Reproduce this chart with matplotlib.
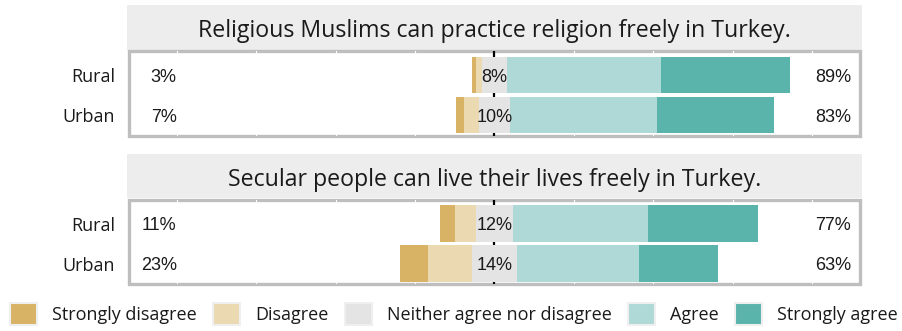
import matplotlib
matplotlib.use("Agg")
import matplotlib.pyplot as plt
import matplotlib.patches as mpatches
import numpy as np

W, H = 903, 331

# likert levels and colours
levels = ["Strongly disagree", "Disagree", "Neither agree nor disagree", "Agree", "Strongly agree"]
colors = ["#D8B365", "#EAD9B1", "#E4E4E4", "#AED9D6", "#5AB4AC"]

groups = ["Urban", "Rural"]  # bottom -> top
questions = ["Religious Muslims can practice religion freely in Turkey.",
             "Secular people can live their lives freely in Turkey."]

# percent per level (rows: Urban, Rural)
religious = np.array([[2.5, 4.6, 10.0, 46.0, 36.9],
                      [1.2, 1.8, 8.0, 48.5, 40.5]])
secular = np.array([[8.9, 13.8, 14.1, 38.5, 24.7],
                    [4.8, 6.4, 11.9, 42.3, 34.6]])
data = [religious, secular]

TXT = "#1a1a1a"
SANS = ["Open Sans", "DejaVu Sans"]
PCT = ["Liberation Sans", "DejaVu Sans"]


def box(x0, y0, x1, y1):
    # pixel box (top-left origin) -> figure fraction
    return [x0 / W, 1 - y1 / H, (x1 - x0) / W, (y1 - y0) / H]


fig = plt.figure(figsize=(W / 100, H / 100), dpi=100)

offset = 148.5
for k in range(2):
    dy = k * offset
    # strip with the question
    sax = fig.add_axes(box(127, 5 + dy, 862, 50 + dy))
    sax.set_facecolor("#EDEDED")
    sax.set_xticks([])
    sax.set_yticks([])
    for s in sax.spines.values():
        s.set_visible(False)
    sax.text(0.5, 0.28, questions[k], ha="center", va="baseline",
             fontsize=16.7, family=SANS, color=TXT, transform=sax.transAxes)

    # panel
    ax = fig.add_axes(box(129, 51 + dy, 860, 135.5 + dy))
    ax.patch.set_edgecolor("#BEBEBE")
    ax.patch.set_linewidth(2.4)
    for s in ax.spines.values():
        s.set_visible(False)

    for g in [-100, -75, -50, -25, 25, 50, 75, 100]:
        ax.axvline(g, color="#FFFFFF", lw=0.8, zorder=1)
    ax.axvline(0, color="black", lw=1.6, zorder=1.5)

    vals = data[k]
    for i in range(len(groups)):
        row = vals[i]
        left = -(row[0] + row[1] + row[2] / 2)
        for j in range(len(levels)):
            ax.barh(i, row[j], left=left, height=0.92, color=colors[j], zorder=2)
            left += row[j]
        low = row[0] + row[1]
        high = row[3] + row[4]
        ax.text(-100, i, f"{low:.0f}%", ha="right", va="center_baseline",
                fontsize=13, family=PCT, color=TXT, zorder=3)
        ax.text(101, i, f"{high:.0f}%", ha="left", va="center_baseline",
                fontsize=13, family=PCT, color=TXT, zorder=3)
        ax.text(0, i, f"{row[2]:.0f}%", ha="center", va="center_baseline",
                fontsize=13, family=PCT, color=TXT, zorder=3)

    ax.set_xlim(-115, 115)
    ax.set_ylim(-0.51, 1.6)
    ax.set_xticks([])
    ax.set_yticks(range(len(groups)))
    ax.set_yticklabels(groups, fontsize=13, family=SANS, color=TXT)
    ax.tick_params(axis="y", length=0, pad=10)

# legend
handles = [mpatches.Patch(facecolor=colors[j], edgecolor="#EFEFEF", linewidth=1.5, label=levels[j])
           for j in range(len(levels))]
fig.legend(handles=handles, loc="center left", bbox_to_anchor=(10 / W, 1 - 314 / H),
           ncol=5, frameon=False, handlelength=1.5, handleheight=1.5,
           handletextpad=0.85, columnspacing=0.88, borderaxespad=0, borderpad=0,
           prop={"family": SANS, "size": 13}, labelcolor=TXT)

plt.savefig("out.png", dpi=100)
plt.close()
